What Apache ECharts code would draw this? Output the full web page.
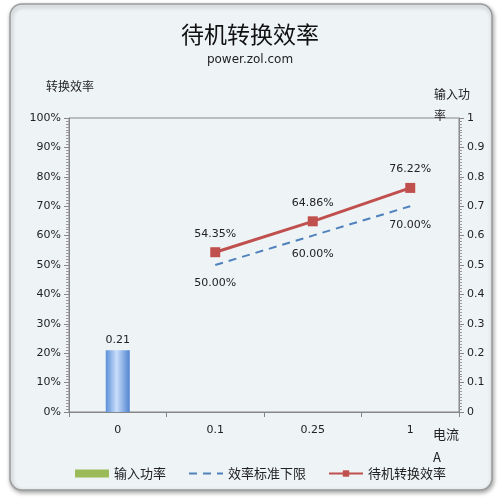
<!DOCTYPE html>
<html>
<head>
<meta charset="utf-8">
<script src="https://cdn.jsdelivr.net/npm/echarts@6/dist/echarts.min.js"></script>
<style>
html, body { margin: 0; padding: 0; background: #fff; }
#chart { width: 500px; height: 500px; }
</style>
</head>
<body>
<div id="chart"></div>
<script>
// 电流 (A)
var categories = ['0', '0.1', '0.25', '1']
// 输入功率 (右轴)
var inputPower = [0.21, '-', '-', '-']
// 效率标准下限 (%)
var standardLimit = ['-', 50, 60, 70]
// 待机转换效率 (%)
var efficiency = ['-', 54.35, 64.86, 76.22]

var cjk = '"Noto Sans CJK SC", sans-serif'
var latin = '"DejaVu Sans", Verdana, sans-serif'

var myChart = echarts.init(document.getElementById('chart'))
var option = {
    backgroundColor: '#ffffff',
    animation: false,
    title: {
        text: '待机转换效率',
        subtext: 'power.zol.com',
        left: 'center',
        top: 18,
        itemGap: 8,
        textStyle: { fontFamily: cjk, fontSize: 23, fontWeight: 'normal', color: '#111' },
        subtextStyle: { fontFamily: latin, fontSize: 12, color: '#222' }
    },
    graphic: [
        {
            type: 'rect', z: -10, silent: true,
            shape: { x: 10, y: 4, width: 482, height: 486, r: 12 },
            style: { fill: '#eef3f6', stroke: '#9a9a9a', lineWidth: 1.5,
                shadowBlur: 4, shadowColor: 'rgba(0,0,0,0.35)', shadowOffsetX: 1, shadowOffsetY: 2 }
        },
        {
            type: 'text', left: 46, top: 80,
            style: { text: '转换效率', font: '12px ' + cjk, fill: '#222' }
        },
        {
            type: 'text', left: 434, top: 84,
            style: { text: '输入功\n率', font: '12px ' + cjk, fill: '#222', lineHeight: 21 }
        },
        {
            type: 'text', left: 433, top: 423,
            style: { text: '电流\nA', font: '13px ' + cjk, fill: '#222', lineHeight: 23 }
        }
    ],
    legend: {
        left: 70,
        top: 462,
        itemWidth: 34,
        itemHeight: 8,
        itemGap: 22,
        textStyle: { fontFamily: cjk, fontSize: 13, color: '#222' },
        data: [
            { name: '输入功率', icon: 'rect', itemStyle: { color: '#9bbb59' } },
            { name: '效率标准下限', itemStyle: { opacity: 0 } },
            { name: '待机转换效率' }
        ]
    },
    grid: {
        left: 69,
        right: 41,
        top: 118,
        bottom: 88,
        show: true,
        borderColor: '#868686',
        borderWidth: 1,
        backgroundColor: 'transparent'
    },
    xAxis: {
        type: 'category',
        data: categories,
        axisLine: { lineStyle: { color: '#868686' } },
        axisTick: { show: true, length: 5, lineStyle: { color: '#868686' } },
        axisLabel: { color: '#222', fontFamily: latin, fontSize: 11, margin: 13 }
    },
    yAxis: [
        {
            type: 'value',
            min: 0,
            max: 100,
            interval: 10,
            axisLine: { show: true, lineStyle: { color: '#868686' } },
            axisTick: { show: true, length: 5, lineStyle: { color: '#868686' } },
            minorTick: { show: true, splitNumber: 10, length: 3, lineStyle: { color: '#999' } },
            splitLine: { show: false },
            axisLabel: { formatter: '{value}%', color: '#222', fontFamily: latin, fontSize: 11, margin: 8 }
        },
        {
            type: 'value',
            min: 0,
            max: 1,
            interval: 0.1,
            position: 'right',
            axisLine: { show: true, lineStyle: { color: '#868686' } },
            axisTick: { show: true, length: 5, lineStyle: { color: '#868686' } },
            minorTick: { show: true, splitNumber: 10, length: 3, lineStyle: { color: '#999' } },
            splitLine: { show: false },
            axisLabel: { color: '#222', fontFamily: latin, fontSize: 11, margin: 8 }
        }
    ],
    series: [
        {
            name: '输入功率',
            type: 'bar',
            yAxisIndex: 1,
            barWidth: 24,
            itemStyle: {
                color: new echarts.graphic.LinearGradient(0, 0, 1, 0, [
                    { offset: 0, color: '#5a8fd9' },
                    { offset: 0.45, color: '#c9defa' },
                    { offset: 1, color: '#4f83d0' }
                ])
            },
            label: { show: true, position: 'top', color: '#222', fontFamily: latin, fontSize: 11, distance: 5 },
            data: inputPower
        },
        {
            name: '效率标准下限',
            type: 'line',
            symbol: 'circle',
            symbolSize: 2,
            showSymbol: true,
            lineStyle: { color: '#4f81bd', width: 2, type: [8, 6] },
            itemStyle: { color: 'transparent', borderWidth: 0 },
            label: {
                show: true, position: 'bottom', distance: 12, opacity: 1,
                formatter: function (p) { return p.value.toFixed(2) + '%' },
                color: '#222', fontFamily: latin, fontSize: 11
            },
            data: standardLimit
        },
        {
            name: '待机转换效率',
            type: 'line',
            symbol: 'rect',
            symbolSize: 10,
            lineStyle: { color: '#c0504d', width: 3 },
            itemStyle: { color: '#c0504d' },
            label: {
                show: true, position: 'top', distance: 8,
                formatter: function (p) { return p.value.toFixed(2) + '%' },
                color: '#222', fontFamily: latin, fontSize: 11
            },
            data: efficiency
        }
    ]
}
myChart.setOption(option)
</script>
</body>
</html>
